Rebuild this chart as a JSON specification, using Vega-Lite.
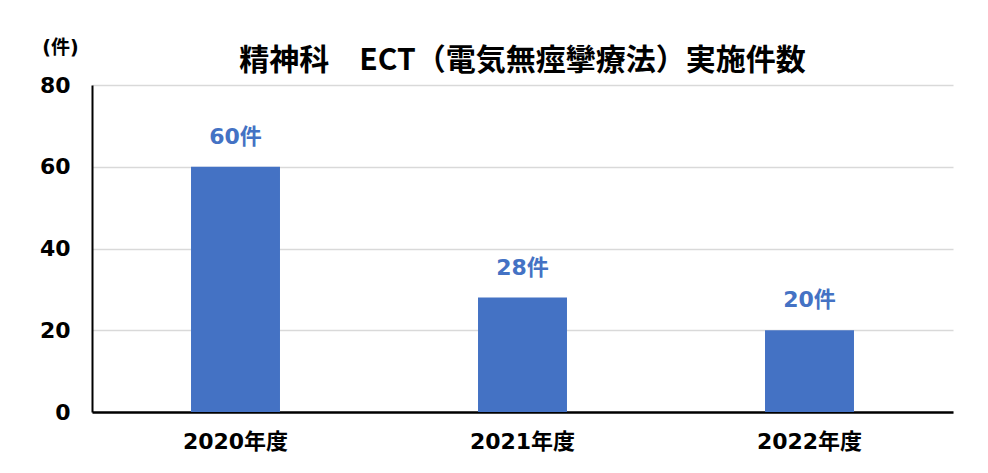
{
  "$schema": "https://vega.github.io/schema/vega-lite/v6.json",
  "autosize": {"type": "none"},
  "width": 861,
  "height": 327,
  "padding": {"left": 92, "top": 85, "right": 35, "bottom": 61},
  "background": "white",
  "title": {
    "text": "精神科　ECT（電気無痙攣療法）実施件数",
    "font": "Noto Sans CJK JP",
    "fontSize": 30,
    "fontWeight": "bold",
    "color": "#000000",
    "anchor": "middle",
    "frame": "group",
    "baseline": "bottom",
    "offset": 8,
    "dy": 76
  },
  "data": {
    "values": [
      {"year": "2020年度", "count": 60, "label": "60件"},
      {"year": "2021年度", "count": 28, "label": "28件"},
      {"year": "2022年度", "count": 20, "label": "20件"}
    ]
  },
  "encoding": {
    "x": {
      "field": "year",
      "type": "nominal",
      "sort": null,
      "scale": {"paddingInner": 0.69, "paddingOuter": 0.345},
      "axis": {
        "title": null,
        "labelAngle": 0,
        "ticks": false,
        "domain": true,
        "domainColor": "#000000",
        "domainWidth": 2.5,
        "labelFont": "DejaVu Sans, Noto Sans CJK JP",
        "labelFontSize": 22,
        "labelFontWeight": "bold",
        "labelColor": "#000000",
        "labelPadding": 19
      }
    },
    "y": {
      "field": "count",
      "type": "quantitative",
      "scale": {"domain": [0, 80]},
      "axis": {
        "values": [0, 20, 40, 60, 80],
        "title": "(件)",
        "titleAngle": 0,
        "titleX": -32,
        "titleY": -38,
        "titleAlign": "center",
        "titleBaseline": "middle",
        "titleFont": "DejaVu Sans, Noto Sans CJK JP",
        "titleFontSize": 19,
        "titleFontWeight": "bold",
        "titleColor": "#000000",
        "ticks": false,
        "domain": true,
        "domainColor": "#000000",
        "domainWidth": 2,
        "grid": true,
        "gridColor": "#d9d9d9",
        "gridWidth": 1.5,
        "labelFont": "DejaVu Sans, Noto Sans CJK JP",
        "labelFontSize": 22,
        "labelFontWeight": "bold",
        "labelColor": "#000000",
        "labelPadding": 22
      }
    }
  },
  "layer": [
    {"mark": {"type": "bar", "color": "#4472C4"}},
    {
      "mark": {
        "type": "text",
        "baseline": "bottom",
        "dy": -18,
        "font": "DejaVu Sans, Noto Sans CJK JP",
        "fontSize": 22,
        "fontWeight": "bold",
        "color": "#4472C4"
      },
      "encoding": {"text": {"field": "label"}}
    }
  ],
  "config": {"view": {"stroke": null}}
}
